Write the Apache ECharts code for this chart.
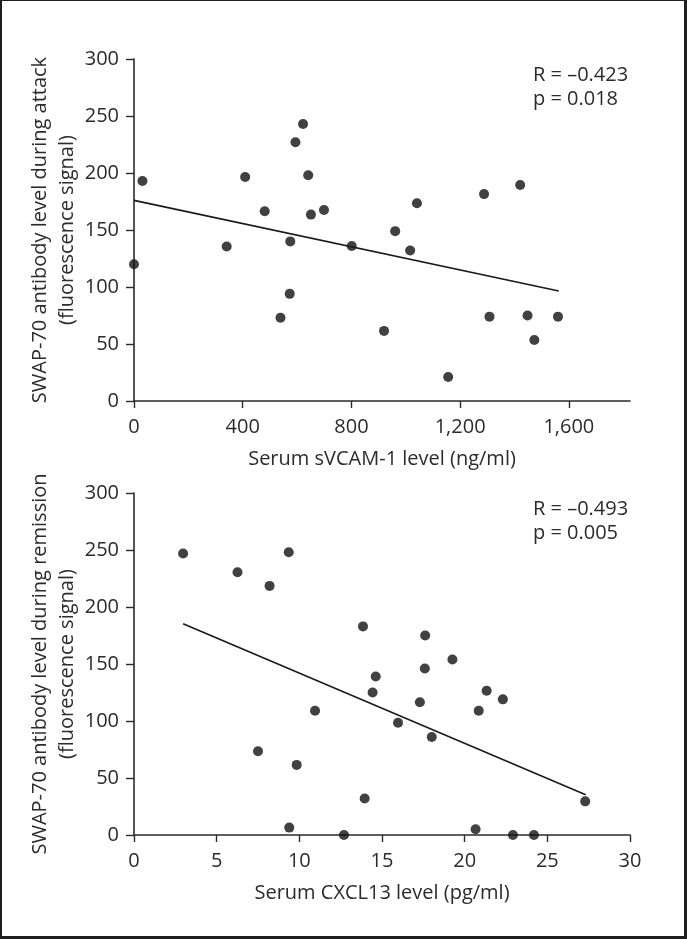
<!DOCTYPE html>
<html>
<head>
<meta charset="utf-8">
<script src="https://cdn.jsdelivr.net/npm/echarts@6/dist/echarts.min.js"></script>
<style>
  html, body { margin: 0; padding: 0; background: #fff; }
  #wrap { position: relative; width: 687px; height: 939px; }
  #chart { width: 687px; height: 939px; }
  #frame {
    position: absolute; left: 0; top: 0; width: 687px; height: 939px;
    box-sizing: border-box; pointer-events: none;
    border-style: solid; border-color: #1e1e1e;
    border-width: 1px 3px 3px 2px;
  }
</style>
</head>
<body>
<div id="wrap">
  <div id="chart"></div>
  <div id="frame"></div>
</div>
<script>
// 上图: sVCAM-1 vs SWAP-70 (attack)
var attackX = [0, 31, 341, 409, 481, 539, 575, 573, 594, 622, 641, 651, 699, 801, 920, 961, 1016, 1041, 1156, 1288, 1308, 1421, 1448, 1473, 1560];
var attackY = [120, 193, 135.5, 196.5, 166.5, 73, 140, 94, 227, 243, 198, 163.5, 167.5, 136, 61.5, 149, 132, 173.5, 21, 181.5, 74, 189.5, 75, 53.5, 74];
var attackFitX = [0, 1563];
var attackFitY = [176, 96.5];
var attackStats = ['R = \u20130.423', 'p = 0.018'];
var attackXTicks = [0, 400, 800, 1200, 1600];

// 下图: CXCL13 vs SWAP-70 (remission)
var remissionX = [2.97, 6.26, 8.2, 9.36, 7.5, 9.84, 9.39, 10.95, 12.7, 13.85, 13.95, 14.43, 14.62, 15.97, 17.29, 17.59, 17.61, 18.01, 19.26, 20.66, 20.85, 21.33, 22.31, 22.92, 24.19, 27.29];
var remissionY = [247, 230.5, 218.5, 248, 73.5, 61.5, 6.5, 109, 0, 183, 32, 125, 139, 98.5, 116.5, 146, 175, 86, 154, 5, 109, 126.5, 119, 0, 0, 29.5];
var remissionFitX = [2.97, 27.32];
var remissionFitY = [185.4, 35.4];
var remissionStats = ['R = \u20130.493', 'p = 0.005'];
var remissionXTicks = [0, 5, 10, 15, 20, 25, 30];

var yTicks = [0, 50, 100, 150, 200, 250, 300];

var ink = '#2b2b2b';
var font = '"Open Sans", "Noto Sans", sans-serif';

function pairs(xs, ys) {
    var out = [];
    for (var i = 0; i < xs.length; i++) {
        out.push([xs[i], ys[i]]);
    }
    return out;
}

function fmt(v) {
    return String(v).replace(/\B(?=(\d{3})+(?!\d))/g, ',');
}

function xAxisOf(idx, max, ticks, name) {
    return {
        type: 'value',
        gridIndex: idx,
        min: 0,
        max: max,
        name: name,
        nameLocation: 'middle',
        nameGap: 48,
        nameMoveOverlap: false,
        nameTextStyle: { color: ink, fontSize: 20, fontFamily: font },
        splitLine: { show: false },
        axisLine: { show: true, onZero: false, lineStyle: { color: ink, width: 1.6 } },
        axisTick: { show: true, length: 7, customValues: ticks, lineStyle: { color: ink, width: 1.4 } },
        axisLabel: {
            customValues: ticks, margin: 16, color: ink, fontSize: 20, fontFamily: font,
            formatter: function (v) { return fmt(v); }
        }
    };
}

function yAxisOf(idx, name) {
    return {
        type: 'value',
        gridIndex: idx,
        min: 0,
        max: 300,
        interval: 50,
        name: name,
        nameLocation: 'middle',
        nameRotate: 90,
        nameGap: 53,
        nameMoveOverlap: false,
        nameTextStyle: { color: ink, fontSize: 20, fontFamily: font, lineHeight: 27 },
        splitLine: { show: false },
        axisLine: { show: true, onZero: false, lineStyle: { color: ink, width: 1.6 } },
        axisTick: { show: true, length: 8, customValues: yTicks, lineStyle: { color: ink, width: 1.4 } },
        axisLabel: { customValues: yTicks, margin: 15, color: ink, fontSize: 20, fontFamily: font }
    };
}

function dots(idx, data) {
    return {
        type: 'scatter',
        xAxisIndex: idx,
        yAxisIndex: idx,
        symbol: 'circle',
        symbolSize: 10,
        clip: false,
        itemStyle: { color: '#111' },
        data: data
    };
}

function fit(idx, data) {
    return {
        type: 'line',
        xAxisIndex: idx,
        yAxisIndex: idx,
        symbol: 'none',
        silent: true,
        lineStyle: { color: '#1a1a1a', width: 1.6 },
        data: data
    };
}

function stats(top, lines) {
    return {
        type: 'text',
        left: 533,
        top: top,
        style: {
            text: lines.join('\n'),
            fill: ink,
            fontSize: 20,
            fontFamily: font,
            lineHeight: 24
        }
    };
}

var chart = echarts.init(document.getElementById('chart'));
var option = {
    backgroundColor: '#fff',
    animation: false,
    grid: [
        { left: 134, top: 59, width: 496, height: 342 },
        { left: 134, top: 493, width: 496, height: 342 }
    ],
    xAxis: [
        xAxisOf(0, 1825, attackXTicks, 'Serum sVCAM-1 level (ng/ml)'),
        xAxisOf(1, 30, remissionXTicks, 'Serum CXCL13 level (pg/ml)')
    ],
    yAxis: [
        yAxisOf(0, 'SWAP-70 antibody level during attack\n(fluorescence signal)'),
        yAxisOf(1, 'SWAP-70 antibody level during remission\n(fluorescence signal)')
    ],
    series: [
        fit(0, pairs(attackFitX, attackFitY)),
        dots(0, pairs(attackX, attackY)),
        fit(1, pairs(remissionFitX, remissionFitY)),
        dots(1, pairs(remissionX, remissionY))
    ],
    graphic: [
        stats(63, attackStats),
        stats(497, remissionStats)
    ]
};
chart.setOption(option);
</script>
</body>
</html>
